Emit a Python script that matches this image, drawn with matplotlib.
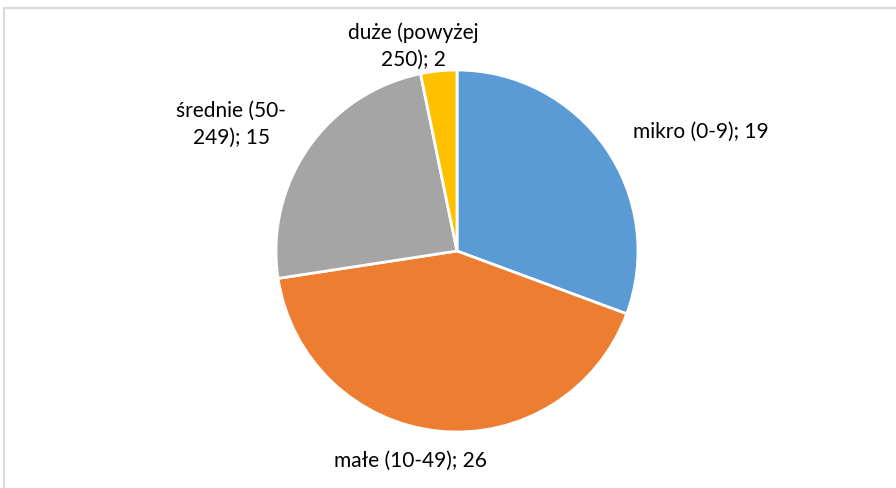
import matplotlib.pyplot as plt
from matplotlib.patches import Rectangle

# --- data ---
categories = ['mikro (0-9)', 'małe (10-49)', 'średnie (50-249)', 'duże (powyżej 250)']
values = [19, 26, 15, 2]
colors = ['#5B9BD5', '#ED7D31', '#A5A5A5', '#FFC000']
label_texts = ['mikro (0-9); 19', 'małe (10-49); 26', 'średnie (50-\n249); 15', 'duże (powyżej\n250); 2']
# label centres in pixels (x, y from top)
label_pos = [(701, 132), (410, 461), (231, 124), (413, 46)]

W, H = 896, 488
plt.rcParams['font.family'] = ['Lato', 'DejaVu Sans']

fig = plt.figure(figsize=(W / 100, H / 100), dpi=100)
fig.patch.set_facecolor('white')

# chart area border (light gray), running off the right/bottom edges
fig.patches.append(Rectangle((4 / W, -0.1), 1.2, 1 - 8 / H + 0.1, transform=fig.transFigure,
                             fill=False, edgecolor='#D9D9D9', linewidth=1.5))

# pie axes: centre (457, 251), radius 181 px
cx, cy, r = 457, 251, 181
ax = fig.add_axes([(cx - r) / W, (H - cy - r) / H, 2 * r / W, 2 * r / H])
ax.pie(values, colors=colors, startangle=90, counterclock=False, radius=1,
       wedgeprops=dict(edgecolor='white', linewidth=2))
ax.set_xlim(-1, 1)
ax.set_ylim(-1, 1)
ax.set_aspect('equal')
ax.axis('off')

for txt, (px, py) in zip(label_texts, label_pos):
    fig.text(px / W, 1 - py / H, txt, ha='center', va='center', fontsize=15,
             color='#000000', linespacing=1.45)

fig.savefig('out.png', dpi=100, facecolor='white')
